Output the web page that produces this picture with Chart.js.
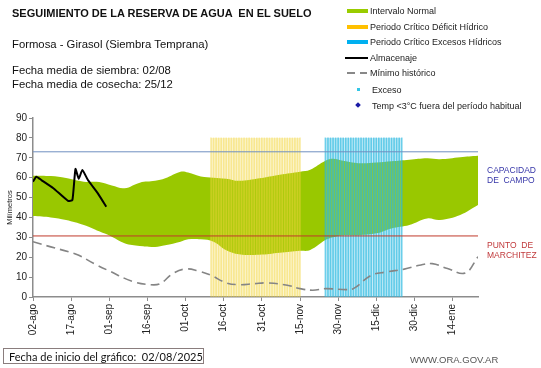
<!DOCTYPE html>
<html>
<head>
<meta charset="utf-8">
<script src="https://cdn.jsdelivr.net/npm/chart.js@4"></script>
<style>
  body { margin: 0; background: #fff; font-family: "Liberation Sans", Arial, sans-serif; }
  #wrap { position: relative; width: 541px; height: 368px; overflow: hidden; }
  canvas { position: absolute; left: 0; top: 0; }
  .txt { position: absolute; white-space: pre; color: #111; }
  .leg { position: absolute; left: 347px; font-size: 9px; color: #222; height: 14px; width: 200px; }
  .leg span.t { position: absolute; left: 23px; top: 0; line-height: 10px; }
  .leg i { position: absolute; display: block; }
</style>
</head>
<body>
<div id="wrap">
  <canvas id="chart" width="541" height="368"></canvas>

  <div class="txt" style="left:12px; top:7px; font-size:11px; font-weight:bold;">SEGUIMIENTO DE LA RESERVA DE AGUA  EN EL SUELO</div>
  <div class="txt" style="left:12px; top:38px; font-size:11.3px;">Formosa - Girasol (Siembra Temprana)</div>
  <div class="txt" style="left:12px; top:63px; font-size:11.3px; line-height:14px;">Fecha media de siembra: 02/08
Fecha media de cosecha: 25/12</div>

  <!-- legend -->
  <div class="leg" style="top:6px;"><i style="left:0; top:3px; width:21px; height:4px; background:#99cc00;"></i><span class="t">Intervalo Normal</span></div>
  <div class="leg" style="top:22px;"><i style="left:0; top:3px; width:21px; height:4px; background:#ffc000;"></i><span class="t">Periodo Crítico Déficit Hídrico</span></div>
  <div class="leg" style="top:37px;"><i style="left:0; top:3px; width:21px; height:4px; background:#00b0f0;"></i><span class="t">Periodo Crítico Excesos Hídricos</span></div>
  <div class="leg" style="top:53px;"><i style="left:-2px; top:4px; width:23px; height:2px; background:#000;"></i><span class="t">Almacenaje</span></div>
  <div class="leg" style="top:68px;"><i style="left:0; top:4px; width:8px; height:2px; background:#888;"></i><i style="left:13px; top:4px; width:7px; height:2px; background:#888;"></i><span class="t">Mínimo histórico</span></div>
  <div class="leg" style="top:85px;"><i style="left:10px; top:3px; width:3px; height:3px; background:#33c6e6;"></i><span class="t" style="left:25px;">Exceso</span></div>
  <div class="leg" style="top:101px;"><i style="left:9px; top:2px; width:4px; height:4px; background:#1a1aa6; transform:rotate(45deg);"></i><span class="t" style="left:25px;">Temp &lt;3°C fuera del período habitual</span></div>

  <!-- reference line labels -->
  <div class="txt" style="left:487px; top:165px; font-size:8.5px; line-height:10px; color:#3535a8;">CAPACIDAD
DE  CAMPO</div>
  <div class="txt" style="left:487px; top:240px; font-size:8.5px; line-height:10px; color:#c0393b;">PUNTO  DE
MARCHITEZ</div>

  <div class="txt" style="left:3px; top:348px; height:16px; border:1px solid #8a7d7d; font-family:Lato, sans-serif; font-size:11px; line-height:15px; padding-left:5px; box-sizing:border-box; width:201px;">Fecha de inicio del gráfico:  02/08/2025</div>
  <div class="txt" style="left:410px; top:354px; font-size:9.5px; color:#555;">WWW.ORA.GOV.AR</div>
</div>

<script>
// x axis in days since 02-ago
const tickLabels = ["02-ago", "17-ago", "01-sep", "16-sep", "01-oct", "16-oct", "31-oct", "15-nov", "30-nov", "15-dic", "30-dic", "14-ene"];

// intervalo normal (upper / lower)
const bandDays  = [0, 7, 13, 20, 26, 31, 36, 42, 48, 52, 58, 61, 66, 71, 76, 81, 89, 97, 105, 109, 115, 118, 122, 128, 135, 141, 148, 155, 160, 168, 175];
const bandUpper = [61, 60.8, 59.8, 58, 57.8, 56, 54.7, 57.5, 58.4, 59.7, 63, 62.6, 60.6, 60, 59.5, 58.4, 59.7, 61.5, 63, 64, 68.5, 69.5, 68.5, 67.3, 67.6, 68.2, 69, 69.8, 69.3, 70.3, 71];
const bandLower = [40.7, 40, 38.7, 36.2, 33, 30.3, 27, 25.6, 25.2, 26, 27.8, 29, 29, 27.8, 23.5, 21.5, 21.2, 22.2, 23.2, 23.6, 28.6, 30, 31.1, 31.1, 32, 34.5, 36.2, 39.5, 38.7, 41.2, 46.2];

// minimo historico
const minDays   = [0, 7, 14, 18, 24, 30, 39, 46, 50, 55, 60, 65, 70, 76, 81, 87, 92, 100, 105, 110, 115, 123, 126, 133, 139, 146, 152, 157, 163, 170, 175];
const minValues = [27.8, 25.2, 22.7, 21, 16.8, 13.1, 7.9, 6.2, 6.7, 11.8, 14.1, 13.1, 10.9, 7.1, 6.2, 6.7, 7.1, 5.9, 4.2, 3.4, 4.2, 3.7, 4.2, 10.9, 12.6, 14, 16, 16.8, 14.3, 12.1, 20.2];

// almacenaje
const almDays   = [0, 1.3, 3.3, 8, 13.8, 15.5, 16.7, 18, 19.4, 21.6, 25.5, 28.8];
const almValues = [58, 60.5, 58.8, 54.7, 48.3, 48.8, 64.4, 59.4, 63.9, 58.8, 52.1, 45.4];

// reference levels
const capacidadCampo = 73;
const puntoMarchitez = 30.7;

// critical periods (start day, end day, height)
const deficitPeriod = [70, 105];
const excesoPeriod  = [115, 145];
const periodTop = 80;

const xMax = 175;

const pts = (xs, ys) => xs.map((x, i) => ({ x: x, y: ys[i] }));
const dayList = (p) => { const out = []; for (let d = p[0]; d <= p[1]; d++) out.push({ x: d, y: periodTop }); return out; };

const font = "'Liberation Sans', Arial, sans-serif";

new Chart(document.getElementById("chart"), {
  data: {
    datasets: [
      // lines on top
      { type: "line", data: pts(almDays, almValues), borderColor: "#000", borderWidth: 2, pointRadius: 0, tension: 0.15, order: 0 },
      { type: "line", data: pts(minDays, minValues), borderColor: "#858585", borderWidth: 1.6, borderDash: [9, 5], pointRadius: 0, tension: 0.4, order: 0 },
      { type: "line", data: [{ x: 0, y: capacidadCampo }, { x: xMax, y: capacidadCampo }], borderColor: "#6f8fc0", borderWidth: 1, pointRadius: 0, order: 0 },
      { type: "line", data: [{ x: 0, y: puntoMarchitez }, { x: xMax, y: puntoMarchitez }], borderColor: "#c0392b", borderWidth: 1, pointRadius: 0, order: 0 },

      // period stripes
      { type: "bar", data: dayList(deficitPeriod), backgroundColor: "rgba(242,212,60,0.45)", barThickness: 1, grouped: false, order: 1 },
      { type: "bar", data: dayList(excesoPeriod), backgroundColor: "rgba(40,185,225,0.65)", barThickness: 1, grouped: false, order: 1 },
      { type: "line", data: [{ x: deficitPeriod[0], y: periodTop }, { x: deficitPeriod[1], y: periodTop }], borderWidth: 0, pointRadius: 0, fill: "origin", backgroundColor: "rgba(240,215,60,0.22)", order: 2 },
      { type: "line", data: [{ x: excesoPeriod[0], y: periodTop }, { x: excesoPeriod[1], y: periodTop }], borderWidth: 0, pointRadius: 0, fill: "origin", backgroundColor: "rgba(90,200,232,0.3)", order: 2 },

      // intervalo normal band
      { type: "line", data: pts(bandDays, bandUpper), borderWidth: 0, pointRadius: 0, tension: 0.4, fill: "+1", backgroundColor: "#99c800", order: 3 },
      { type: "line", data: pts(bandDays, bandLower), borderWidth: 0, pointRadius: 0, tension: 0.4, fill: false, order: 3 }
    ]
  },
  options: {
    responsive: false,
    animation: false,
    layout: { padding: { left: 0, top: 118, right: 63, bottom: 0 } },
    plugins: { legend: { display: false }, tooltip: { enabled: false } },
    scales: {
      x: {
        type: "linear",
        min: 0,
        max: xMax,
        offset: false,
        afterFit: (s) => { s.height = 71; },
        grid: { drawOnChartArea: false, tickLength: 4, color: "#8c8c8c", offset: false },
        border: { color: "#8c8c8c", width: 1.5 },
        ticks: {
          stepSize: 15,
          includeBounds: false,
          autoSkip: false,
          minRotation: 90,
          maxRotation: 90,
          color: "#222",
          font: { family: font, size: 10 },
          callback: (v) => tickLabels[v / 15]
        }
      },
      y: {
        min: 0,
        max: 90,
        afterFit: (s) => { s.width = 33; },
        grid: { drawOnChartArea: false, tickLength: 4, color: "#8c8c8c" },
        border: { color: "#8c8c8c", width: 1.5 },
        ticks: { stepSize: 10, color: "#222", padding: 2, font: { family: font, size: 10 } },
        title: { display: true, text: "Milímetros", color: "#222", font: { family: font, size: 7.5 }, padding: { top: 5, bottom: 0 } }
      }
    }
  }
});
</script>
</body>
</html>
